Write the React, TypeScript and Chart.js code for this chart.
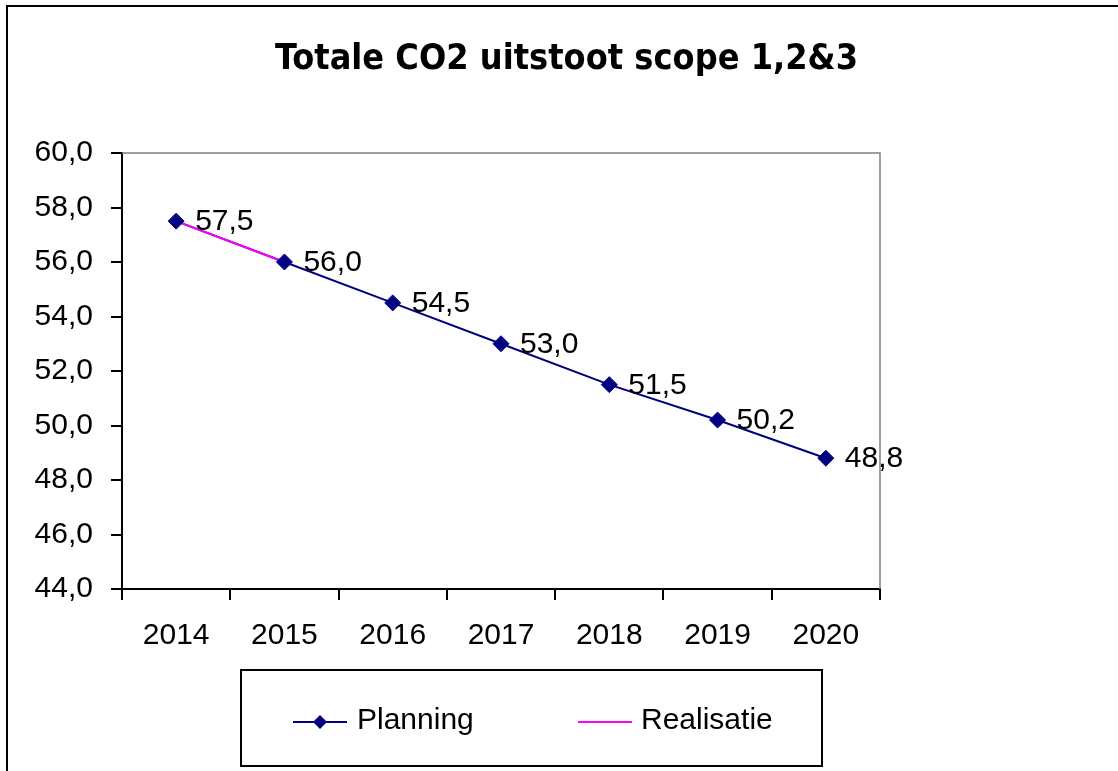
import React, { useEffect, useRef } from 'react';
import { Chart, registerables } from 'chart.js';

Chart.register(...registerables);

const years = ['2014', '2015', '2016', '2017', '2018', '2019', '2020'];
const planning = [57.5, 56.0, 54.5, 53.0, 51.5, 50.2, 48.8];
const realisatie = [57.5, 56.0, null, null, null, null, null];
const yMin = 44;
const yMax = 60;
const yStep = 2;
const titleText = 'Totale CO2 uitstoot scope 1,2&3';
const legendLabels = ['Planning', 'Realisatie'];

const NAVY = '#000080';
const MAGENTA = '#FF00FF';
const FONT = '"Liberation Sans", Arial, sans-serif';

const fmt = (v: number) => Number(v).toFixed(1).replace('.', ',');

const drawDiamond = (ctx: CanvasRenderingContext2D, x: number, y: number, r: number) => {
  ctx.beginPath();
  ctx.moveTo(x, y - r);
  ctx.lineTo(x + r, y);
  ctx.lineTo(x, y + r);
  ctx.lineTo(x - r, y);
  ctx.closePath();
  ctx.fillStyle = NAVY;
  ctx.fill();
};

const decor = {
  id: 'decor',
  beforeDatasetsDraw(chart: any) {
    const ctx = chart.ctx;
    const a = chart.chartArea;
    ctx.save();
    ctx.strokeStyle = '#808080';
    ctx.lineWidth = 1.5;
    ctx.beginPath();
    ctx.moveTo(a.left, a.top);
    ctx.lineTo(a.right, a.top);
    ctx.lineTo(a.right, a.bottom);
    ctx.stroke();
    ctx.restore();
  },
  afterDatasetsDraw(chart: any) {
    const ctx = chart.ctx;
    ctx.save();
    const meta = chart.getDatasetMeta(0);
    ctx.font = `30px ${FONT}`;
    ctx.fillStyle = '#000';
    ctx.textAlign = 'left';
    ctx.textBaseline = 'middle';
    meta.data.forEach((pt: any, i: number) => {
      ctx.fillText(fmt(planning[i]), pt.x + 19, pt.y + 1);
    });

    ctx.strokeStyle = '#000';
    ctx.lineWidth = 2;
    ctx.beginPath();
    ctx.moveTo(7, 800);
    ctx.lineTo(7, 6);
    ctx.lineTo(1140, 6);
    ctx.stroke();

    ctx.font = 'bold 36px "DejaVu Sans Condensed", "DejaVu Sans", sans-serif';
    ctx.textAlign = 'center';
    ctx.textBaseline = 'alphabetic';
    ctx.fillText(titleText, 566.5, 69, 583);

    ctx.lineWidth = 2;
    ctx.strokeStyle = '#000';
    ctx.strokeRect(241, 670, 581, 96);
    ctx.font = `30px ${FONT}`;
    ctx.textAlign = 'left';
    ctx.strokeStyle = NAVY;
    ctx.beginPath();
    ctx.moveTo(293, 722);
    ctx.lineTo(347, 722);
    ctx.stroke();
    drawDiamond(ctx, 320, 722, 7);
    ctx.fillStyle = '#000';
    ctx.fillText(legendLabels[0], 357, 729);
    ctx.strokeStyle = MAGENTA;
    ctx.beginPath();
    ctx.moveTo(578, 722);
    ctx.lineTo(632, 722);
    ctx.stroke();
    ctx.fillText(legendLabels[1], 641, 729);
    ctx.restore();
  },
};

export default function App() {
  const ref = useRef<HTMLCanvasElement | null>(null);
  useEffect(() => {
    if (!ref.current) return;
    const chart = new Chart(ref.current, {
      type: 'line',
      data: {
        labels: years,
        datasets: [
          {
            label: legendLabels[0],
            data: planning,
            showLine: false,
            pointStyle: 'rectRot',
            pointRadius: 8,
            pointBackgroundColor: NAVY,
            pointBorderColor: NAVY,
            pointBorderWidth: 1,
            borderColor: NAVY,
            backgroundColor: NAVY,
          },
          {
            label: legendLabels[1],
            data: realisatie,
            borderColor: MAGENTA,
            backgroundColor: MAGENTA,
            borderWidth: 2,
            pointRadius: 0,
            tension: 0,
            spanGaps: false,
          },
          {
            label: legendLabels[0] + ' line',
            data: planning,
            borderColor: NAVY,
            backgroundColor: NAVY,
            borderWidth: 2,
            pointRadius: 0,
            tension: 0,
          },
        ],
      },
      options: {
        responsive: false,
        animation: false,
        events: [],
        layout: { padding: { top: 153, right: 238, bottom: 100, left: 0 } },
        plugins: {
          legend: { display: false },
          title: { display: false },
          tooltip: { enabled: false },
        },
        scales: {
          x: {
            type: 'category',
            offset: true,
            grid: {
              offset: true,
              drawOnChartArea: false,
              drawTicks: true,
              tickLength: 11,
              color: '#000',
              lineWidth: 2,
            },
            border: { display: true, color: '#000', width: 2 },
            ticks: {
              color: '#000',
              font: { size: 30, family: FONT },
              padding: 18,
              maxRotation: 0,
              autoSkip: false,
            },
            afterFit: (s: any) => {
              s.height = 82;
            },
          },
          y: {
            min: yMin,
            max: yMax,
            grid: {
              drawOnChartArea: false,
              drawTicks: true,
              tickLength: 11,
              color: '#000',
              lineWidth: 2,
            },
            border: { display: true, color: '#000', width: 2 },
            ticks: {
              stepSize: yStep,
              color: '#000',
              font: { size: 30, family: FONT },
              padding: 18,
              callback: (v: any) => fmt(Number(v)),
            },
            afterFit: (s: any) => {
              s.width = 122;
            },
          },
        },
      },
      plugins: [decor],
    });
    return () => chart.destroy();
  }, []);
  return (
    <div style={{ position: 'fixed', left: 0, top: 0, width: 1118, height: 771, background: '#fff' }}>
      <canvas ref={ref} width={1118} height={771} />
    </div>
  );
}
